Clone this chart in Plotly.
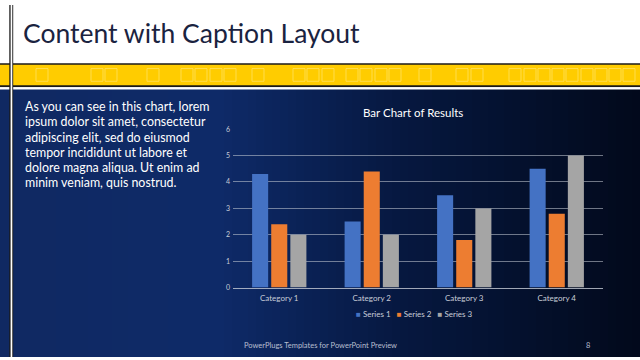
import plotly.graph_objects as go

# ---- data ----
categories = ["Category 1", "Category 2", "Category 3", "Category 4"]
series_names = ["Series 1", "Series 2", "Series 3"]
series1 = [4.3, 2.5, 3.5, 4.5]
series2 = [2.4, 4.4, 1.8, 2.8]
series3 = [2, 2, 3, 5]
y_ticks = [0, 1, 2, 3, 4, 5, 6]

slide_title = "Content with Caption Layout"
chart_title = "Bar Chart of Results"
caption_lines = [
    "As you can see in this chart, lorem",
    "ipsum dolor sit amet, consectetur",
    "adipiscing elit, sed do eiusmod",
    "tempor incididunt ut labore et",
    "dolore magna aliqua. Ut enim ad",
    "minim veniam, quis nostrud.",
]
footer_text = "PowerPlugs Templates for PowerPoint Preview"
page_number = "8"

W, H = 640, 360
FONT = "Lato"

def px(x):
    return x / W

def py(y):
    return 1 - y / H

colors = ["#4472C4", "#ED7D31", "#A5A5A5"]
values = [series1, series2, series3]

fig = go.Figure()
for name, vals, c in zip(series_names, values, colors):
    fig.add_trace(go.Bar(x=categories, y=vals, name=name, showlegend=False,
                         marker=dict(color=c, line=dict(width=0))))

shapes = []
# background gradient strips
stops = [(0, (16, 41, 98)), (220, (14, 42, 104)), (400, (6, 24, 64)), (640, (2, 9, 27))]

def col_at(x):
    for (x0, c0), (x1, c1) in zip(stops[:-1], stops[1:]):
        if x0 <= x <= x1:
            t = (x - x0) / (x1 - x0)
            return tuple(round(a + (b - a) * t) for a, b in zip(c0, c1))
    return stops[-1][1]

n = 80
for i in range(n):
    x0 = W * i / n
    x1 = W * (i + 1) / n
    c = col_at((x0 + x1) / 2)
    shapes.append(dict(type="rect", xref="paper", yref="paper", x0=px(x0), x1=px(x1) + 0.002,
                       y0=0, y1=py(86), fillcolor="rgb(%d,%d,%d)" % c, line=dict(width=0), layer="below"))

# yellow band with black borders and white line
shapes.append(dict(type="rect", xref="paper", yref="paper", x0=0, x1=1, y0=py(84), y1=py(59.5),
                   fillcolor="#1a1a1a", line=dict(width=0), layer="below"))
shapes.append(dict(type="rect", xref="paper", yref="paper", x0=0, x1=1, y0=py(82), y1=py(61),
                   fillcolor="#FFCC00", line=dict(width=0), layer="below"))
shapes.append(dict(type="rect", xref="paper", yref="paper", x0=0, x1=1, y0=py(86.5), y1=py(84),
                   fillcolor="#FFFFFF", line=dict(width=0), layer="below"))
square_lefts = [36, 91, 105, 147, 181, 195, 210, 224, 252, 293, 307, 322, 346, 360, 375, 389,
                419, 456, 471, 509, 524, 538, 552, 566, 581, 595, 609, 623]
for sx in square_lefts:
    shapes.append(dict(type="rect", xref="paper", yref="paper", x0=px(sx), x1=px(sx + 12),
                       y0=py(78), y1=py(65), fillcolor="rgba(0,0,0,0)",
                       line=dict(color="rgba(255,228,110,0.7)", width=1), layer="below"))
# vertical rule
shapes.append(dict(type="rect", xref="paper", yref="paper", x0=px(9.3), x1=px(13.2), y0=0, y1=1,
                   fillcolor="#1a1a1a", line=dict(width=0), layer="below"))
shapes.append(dict(type="rect", xref="paper", yref="paper", x0=px(10.6), x1=px(12.3), y0=0, y1=1,
                   fillcolor="#FFFFFF", line=dict(width=0), layer="below"))

legend_text = "&nbsp;&nbsp;&nbsp;".join(
    '<span style="color:%s">■</span> %s' % (c, name) for name, c in zip(series_names, colors))

annotations = [
    dict(text=slide_title, xref="paper", yref="paper", x=px(21), y=py(29), xanchor="left",
         yanchor="middle", showarrow=False, font=dict(family=FONT, size=26.5, color="#1a2340")),
    dict(text=chart_title, xref="paper", yref="paper", x=px(413), y=py(110), xanchor="center",
         yanchor="middle", showarrow=False, font=dict(family=FONT, size=11.5, color="#FFFFFF")),
    dict(text=legend_text, xref="paper", yref="paper", x=px(414), y=py(316.5), xanchor="center",
         yanchor="middle", showarrow=False, font=dict(family=FONT, size=8, color="#c8cdd8")),
    dict(text=footer_text, xref="paper", yref="paper", x=px(320), y=py(348.5), xanchor="center",
         yanchor="middle", showarrow=False, font=dict(family=FONT, size=7.5, color="#b8bfd0")),
    dict(text=page_number, xref="paper", yref="paper", x=px(588), y=py(348.5), xanchor="center",
         yanchor="middle", showarrow=False, font=dict(family=FONT, size=7.5, color="#b8bfd0")),
]
for i, line in enumerate(caption_lines):
    annotations.append(dict(text=line, xref="paper", yref="paper", x=px(23), y=py(104 + 15.6 * i),
                            xanchor="left", yanchor="middle", align="left", showarrow=False,
                            font=dict(family=FONT, size=12.4, color="#FFFFFF")))

fig.update_layout(
    width=W, height=H,
    margin=dict(l=0, r=0, t=0, b=0),
    paper_bgcolor="#FFFFFF",
    plot_bgcolor="rgba(0,0,0,0)",
    barmode="group",
    bargap=0.38,
    bargroupgap=0.16,
    showlegend=False,
    xaxis=dict(domain=[px(233), px(603)], showgrid=False, showline=True,
               linecolor="rgba(200,205,215,0.8)", linewidth=1, ticks="", ticklabelstandoff=3,
               tickfont=dict(family=FONT, size=8, color="#c8cdd8"), fixedrange=True),
    yaxis=dict(domain=[py(289), py(127)], range=[0, 6], tickvals=y_ticks, showgrid=True,
               gridcolor="rgba(200,205,215,0.55)", gridwidth=1, zeroline=False, showline=False,
               ticks="", ticklabelstandoff=2,
               tickfont=dict(family=FONT, size=7, color="#c8cdd8"), fixedrange=True),
    shapes=shapes,
    annotations=annotations,
    font=dict(family=FONT),
)

fig.write_html(
    "out.html",
    config={"displayModeBar": False, "staticPlot": True},
    post_script="document.body.style.margin='0';document.body.style.padding='0';"
                "document.body.style.overflow='hidden';",
)
